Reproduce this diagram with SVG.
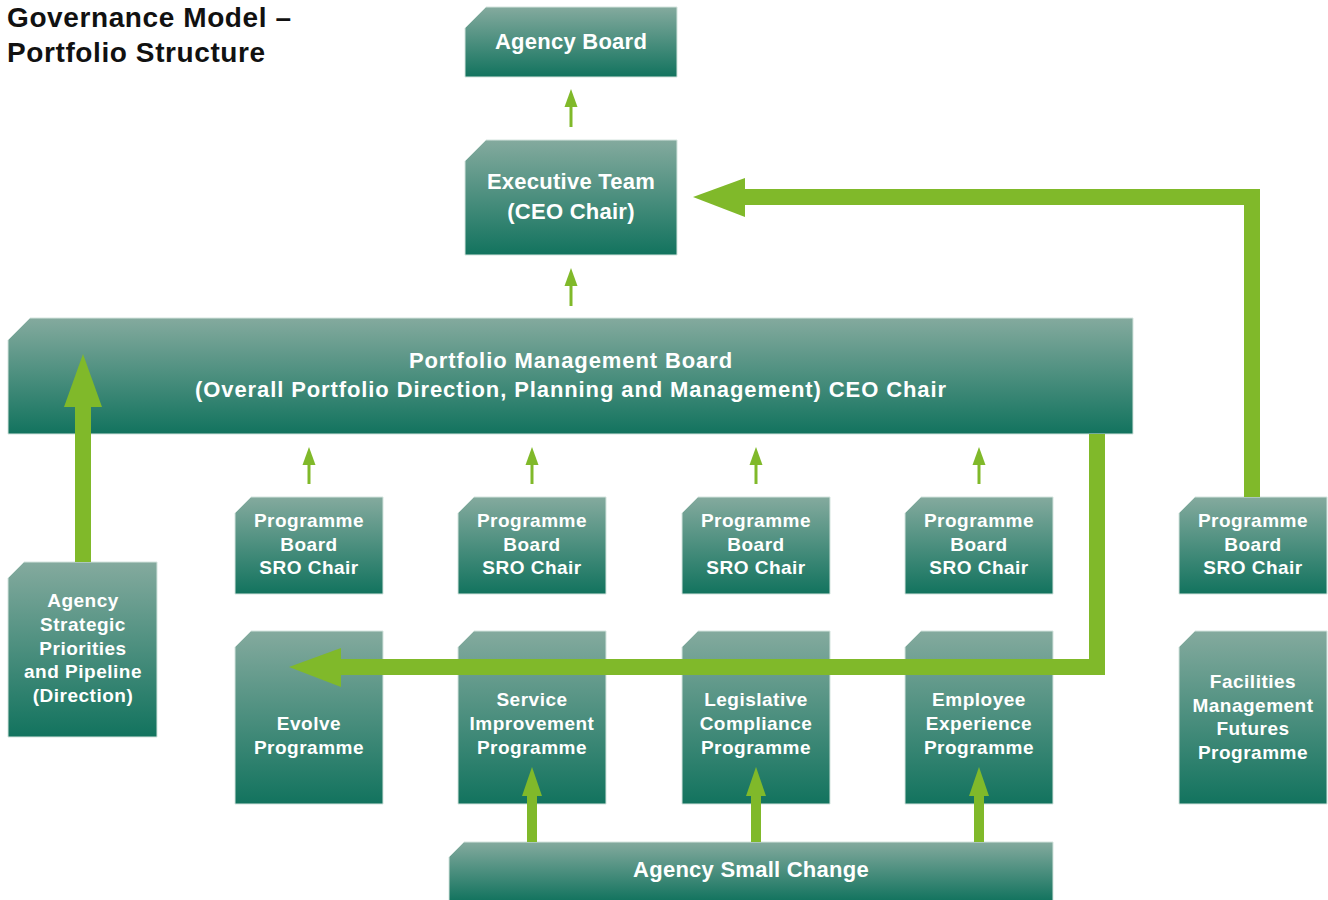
<svg xmlns="http://www.w3.org/2000/svg" width="1328" height="900" viewBox="0 0 1328 900">
<defs>
<linearGradient id="g" x1="0" y1="0" x2="0" y2="1">
<stop offset="0" stop-color="#84aa9e"/>
<stop offset="1" stop-color="#12735e"/>
</linearGradient>
<style>
.box{fill:url(#g);stroke:#d4e4de;stroke-width:1}
.t{font-family:"Liberation Sans",Arial,sans-serif;font-weight:bold;fill:#fff;text-anchor:middle}
.big{font-size:22px;letter-spacing:0.25px}
.pmb{font-size:22px;letter-spacing:0.9px}
.sm{font-size:19px;letter-spacing:0.5px}
.title{font-family:"Liberation Sans",Arial,sans-serif;font-weight:bold;font-size:28px;letter-spacing:0.6px;fill:#111}
.thick{fill:none;stroke:#80b92a;stroke-width:16;stroke-linejoin:miter}
.thin{fill:none;stroke:#80b92a;stroke-width:3}
.mid{fill:none;stroke:#80b92a;stroke-width:10}
.head{fill:#80b92a}
</style>
</defs>
<rect width="1328" height="900" fill="#fff"/>
<g id="title">
<text class="title" x="7" y="27">Governance Model –</text>
<text class="title" x="7" y="62">Portfolio Structure</text>
</g>
<g id="agency-board">
<path class="box" d="M465 28 L486 7 H677 V77 H465 Z"/>
<text class="t big" x="571" y="49">Agency Board</text>
</g>
<g id="executive-team">
<path class="box" d="M465 161 L486 140 H677 V255 H465 Z"/>
<text class="t big" x="571" y="189">Executive Team</text>
<text class="t big" x="571" y="219">(CEO Chair)</text>
</g>
<g id="pmb">
<path class="box" d="M8 340 L30 318 H1133 V434 H8 Z"/>
<text class="t pmb" x="571" y="368">Portfolio Management Board</text>
<text class="t pmb" x="571" y="397">(Overall Portfolio Direction, Planning and Management) CEO Chair</text>
</g>
<g id="agency-strategic">
<path class="box" d="M8 578 L24 562 H157 V737 H8 Z"/>
<text class="t sm" x="83" y="607">Agency</text>
<text class="t sm" x="83" y="631">Strategic</text>
<text class="t sm" x="83" y="655">Priorities</text>
<text class="t sm" x="83" y="678">and Pipeline</text>
<text class="t sm" x="83" y="702">(Direction)</text>
</g>
<g id="pb1">
<path class="box" d="M235 513 L251 497 H383 V594 H235 Z"/>
<text class="t sm" x="309" y="527">Programme</text>
<text class="t sm" x="309" y="551">Board</text>
<text class="t sm" x="309" y="574">SRO Chair</text>
</g>
<g id="pb2">
<path class="box" d="M458 513 L474 497 H606 V594 H458 Z"/>
<text class="t sm" x="532" y="527">Programme</text>
<text class="t sm" x="532" y="551">Board</text>
<text class="t sm" x="532" y="574">SRO Chair</text>
</g>
<g id="pb3">
<path class="box" d="M682 513 L698 497 H830 V594 H682 Z"/>
<text class="t sm" x="756" y="527">Programme</text>
<text class="t sm" x="756" y="551">Board</text>
<text class="t sm" x="756" y="574">SRO Chair</text>
</g>
<g id="pb4">
<path class="box" d="M905 513 L921 497 H1053 V594 H905 Z"/>
<text class="t sm" x="979" y="527">Programme</text>
<text class="t sm" x="979" y="551">Board</text>
<text class="t sm" x="979" y="574">SRO Chair</text>
</g>
<g id="pb5">
<path class="box" d="M1179 513 L1195 497 H1327 V594 H1179 Z"/>
<text class="t sm" x="1253" y="527">Programme</text>
<text class="t sm" x="1253" y="551">Board</text>
<text class="t sm" x="1253" y="574">SRO Chair</text>
</g>
<g id="evolve">
<path class="box" d="M235 647 L251 631 H383 V804 H235 Z"/>
<text class="t sm" x="309" y="730">Evolve</text>
<text class="t sm" x="309" y="754">Programme</text>
</g>
<g id="service">
<path class="box" d="M458 647 L474 631 H606 V804 H458 Z"/>
<text class="t sm" x="532" y="706">Service</text>
<text class="t sm" x="532" y="730">Improvement</text>
<text class="t sm" x="532" y="754">Programme</text>
</g>
<g id="legislative">
<path class="box" d="M682 647 L698 631 H830 V804 H682 Z"/>
<text class="t sm" x="756" y="706">Legislative</text>
<text class="t sm" x="756" y="730">Compliance</text>
<text class="t sm" x="756" y="754">Programme</text>
</g>
<g id="employee">
<path class="box" d="M905 647 L921 631 H1053 V804 H905 Z"/>
<text class="t sm" x="979" y="706">Employee</text>
<text class="t sm" x="979" y="730">Experience</text>
<text class="t sm" x="979" y="754">Programme</text>
</g>
<g id="facilities">
<path class="box" d="M1179 647 L1195 631 H1327 V804 H1179 Z"/>
<text class="t sm" x="1253" y="688">Facilities</text>
<text class="t sm" x="1253" y="712">Management</text>
<text class="t sm" x="1253" y="735">Futures</text>
<text class="t sm" x="1253" y="759">Programme</text>
</g>
<g id="small-change">
<path class="box" d="M449 857 L464 842 H1053 V901 H449 Z"/>
<text class="t big" x="751" y="877">Agency Small Change</text>
</g>
<g id="connectors">
<path class="thin" d="M571 127 V105"/>
<polygon class="head" points="571,89 564.5,107 577.5,107"/>
<path class="thin" d="M571 306 V284"/>
<polygon class="head" points="571,268 564.5,286 577.5,286"/>
<path class="thin" d="M309 484 V463"/>
<polygon class="head" points="309,447 302.5,465 315.5,465"/>
<path class="thin" d="M532 484 V463"/>
<polygon class="head" points="532,447 525.5,465 538.5,465"/>
<path class="thin" d="M756 484 V463"/>
<polygon class="head" points="756,447 749.5,465 762.5,465"/>
<path class="thin" d="M979 484 V463"/>
<polygon class="head" points="979,447 972.5,465 985.5,465"/>
<path class="thick" d="M83 562 V403"/>
<polygon class="head" points="83,354 64,407 102,407"/>
<path class="thick" d="M1252 497 V197 H740"/>
<polygon class="head" points="693,197 745,178 745,217"/>
<path class="thick" d="M1097 434 V667 H336"/>
<polygon class="head" points="289,667 341,648 341,687"/>
<path class="mid" d="M532 842 V792"/>
<polygon class="head" points="532,767 522,796 542,796"/>
<path class="mid" d="M756 842 V792"/>
<polygon class="head" points="756,767 746,796 766,796"/>
<path class="mid" d="M979 842 V792"/>
<polygon class="head" points="979,767 969,796 989,796"/>
</g>
</svg>
